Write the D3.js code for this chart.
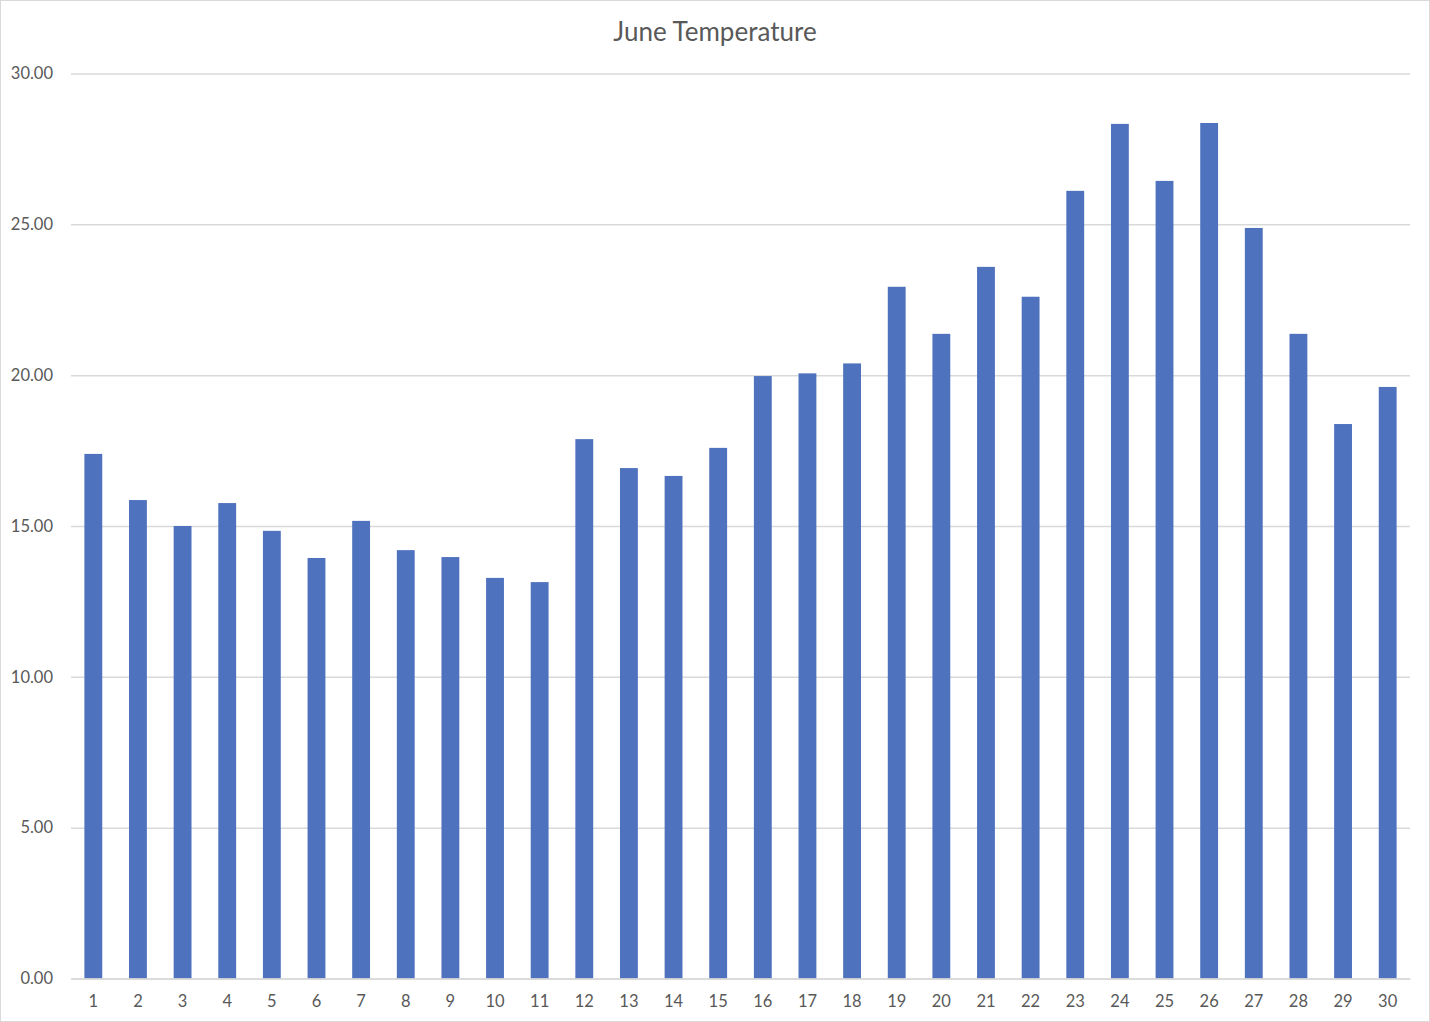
<!DOCTYPE html>
<html>
<head>
<meta charset="utf-8">
<script src="https://cdn.jsdelivr.net/npm/d3@7"></script>
<style>
  html, body { margin: 0; padding: 0; background: #fff; }
  svg { display: block; }
</style>
</head>
<body>
<div id="chart"></div>
<script>
// June daily temperatures
const days = d3.range(1, 31).map(String);
const temps = [
  17.39, 15.86, 15.00, 15.76, 14.84, 13.94, 15.17, 14.20, 13.97, 13.28,
  13.14, 17.88, 16.92, 16.66, 17.59, 19.97, 20.06, 20.39, 22.93, 21.37,
  23.59, 22.60, 26.11, 28.33, 26.44, 28.36, 24.88, 21.37, 18.38, 19.61
];
const yTicks = [0, 5, 10, 15, 20, 25, 30];
const title = "June Temperature";

const drawChart = (selector) => {
    const width = 1430;
    const height = 1022;
    const marginTop = 73.5;
    const marginRight = 20;
    const marginBottom = 43.5;
    const marginLeft = 71;
    const font = "Lato, 'Open Sans', sans-serif";
    const textColor = "#595959";
    const gridColor = "#d9d9d9";

    const data = days.map((d, i) => ({ name: d, value: temps[i] }));

    const x = d3.scaleBand()
        .domain(days)
        .range([marginLeft, width - marginRight])
        .paddingInner(0.6)
        .paddingOuter(0.3);

    const y = d3.scaleLinear()
        .domain([0, 30])
        .range([height - marginBottom, marginTop]);

    d3.select(selector).selectAll("*").remove();
    const svg = d3.select(selector)
        .append("svg")
        .attr("width", width)
        .attr("height", height);

    // chart frame
    svg.append("rect")
        .attr("x", 0.5).attr("y", 0.5)
        .attr("width", width - 1).attr("height", height - 1)
        .attr("fill", "#fff")
        .attr("stroke", gridColor);

    // gridlines + y labels
    const gy = svg.append("g")
        .attr("transform", `translate(${marginLeft},0)`)
        .call(d3.axisLeft(y)
            .tickValues(yTicks)
            .tickSize(-(width - marginLeft - marginRight))
            .tickPadding(18)
            .tickFormat(d3.format(".2f")))
        .call(g => g.select(".domain").remove());
    gy.selectAll(".tick line")
        .attr("stroke", gridColor)
        .attr("stroke-width", 1.5);
    gy.selectAll(".tick text")
        .attr("fill", textColor)
        .attr("font-family", font)
        .attr("font-size", 16.5);

    // bars
    svg.append("g")
        .selectAll("rect")
        .data(data)
        .join("rect")
        .attr("x", d => x(d.name))
        .attr("y", d => y(d.value))
        .attr("width", x.bandwidth())
        .attr("height", d => y(0) - y(d.value))
        .attr("fill", "#4e72bd");

    // x axis
    const gx = svg.append("g")
        .attr("transform", `translate(0,${height - marginBottom})`)
        .call(d3.axisBottom(x).tickSize(0).tickPadding(17).tickSizeOuter(0));
    gx.select(".domain")
        .attr("stroke", gridColor)
        .attr("stroke-width", 1.5);
    gx.selectAll(".tick text")
        .attr("fill", textColor)
        .attr("font-family", font)
        .attr("font-size", 16.5);

    // title
    svg.append("text")
        .attr("x", width / 2)
        .attr("y", 41)
        .attr("text-anchor", "middle")
        .attr("fill", textColor)
        .attr("font-family", font)
        .attr("font-size", 26)
        .text(title);
};

drawChart("#chart");
</script>
</body>
</html>
